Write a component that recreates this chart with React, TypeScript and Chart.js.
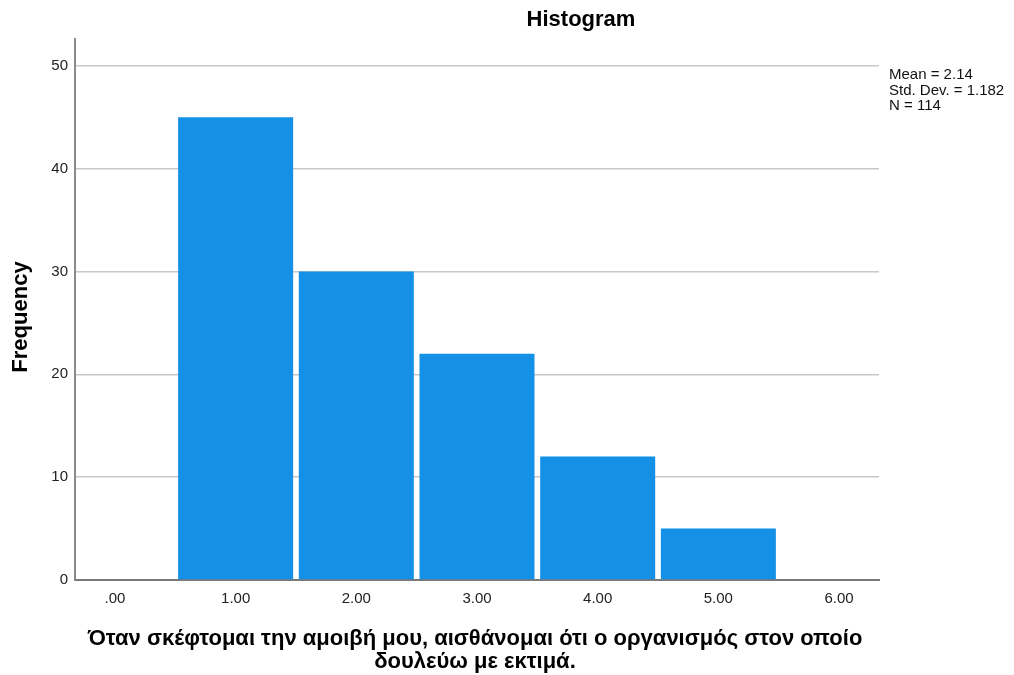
import React, { useEffect, useRef } from "react";
import { Chart, registerables } from "chart.js";

Chart.register(...registerables);

const binCenters = [1, 2, 3, 4, 5];
const frequencies = [45, 30, 22, 12, 5];
const xTickValues = [0, 1, 2, 3, 4, 5, 6];
const xTickLabels = [".00", "1.00", "2.00", "3.00", "4.00", "5.00", "6.00"];
const yTickValues = [0, 10, 20, 30, 40, 50];
const titleText = "Histogram";
const yTitle = "Frequency";
const xTitleLines = [
  "Όταν σκέφτομαι την αμοιβή μου, αισθάνομαι ότι ο οργανισμός στον οποίο",
  "δουλεύω με εκτιμά.",
];
const statsLines = ["Mean = 2.14", "Std. Dev. = 1.182", "N = 114"];

const FONT = "'Liberation Sans', Arial, Helvetica, sans-serif";

const textPlugin = {
  id: "textPlugin",
  afterDraw(chart: any) {
    const ctx = chart.ctx;
    const area = chart.chartArea;
    ctx.save();
    ctx.fillStyle = "#000";
    // title
    ctx.font = `bold 22px ${FONT}`;
    ctx.textAlign = "center";
    ctx.textBaseline = "middle";
    ctx.fillText(titleText, 581, 20);
    // y title
    ctx.save();
    ctx.translate(21, 317);
    ctx.rotate(-Math.PI / 2);
    ctx.font = `bold 22px ${FONT}`;
    ctx.fillText(yTitle, 0, 0);
    ctx.restore();
    // x title
    ctx.font = `bold 22px ${FONT}`;
    const cx = (area.left + area.right) / 2 - 2;
    ctx.fillText(xTitleLines[0], cx, 639);
    ctx.fillText(xTitleLines[1], cx, 662);
    // stats
    ctx.font = `15px ${FONT}`;
    ctx.textAlign = "left";
    ctx.fillStyle = "#111";
    statsLines.forEach((s, i) => ctx.fillText(s, 889, 75 + i * 15.5));
    ctx.restore();
  },
};

export default function App() {
  const ref = useRef<HTMLCanvasElement>(null);
  useEffect(() => {
    document.body.style.margin = "0";
    const chart = new Chart(ref.current!, {
      type: "bar",
      data: {
        datasets: [
          {
            data: binCenters.map((x, i) => ({ x, y: frequencies[i] })),
            backgroundColor: "#1490e7",
            borderWidth: 0,
            barPercentage: 0.953,
            categoryPercentage: 1,
          },
        ],
      },
      options: {
        responsive: false,
        animation: false,
        layout: { padding: { top: 39, right: 135, left: 0, bottom: 0 } },
        plugins: { legend: { display: false }, tooltip: { enabled: false }, title: { display: false } },
        scales: {
          x: {
            type: "linear",
            min: -0.331,
            max: 6.331,
            offset: false,
            afterBuildTicks: (scale: any) => {
              scale.ticks = xTickValues.map((v) => ({ value: v }));
            },
            afterFit: (scale: any) => {
              scale.height = 95;
            },
            ticks: {
              autoSkip: false,
              maxRotation: 0,
              padding: 10,
              color: "#222",
              font: { family: FONT, size: 15 },
              callback: (v: any) => {
                const i = xTickValues.indexOf(Number(v));
                return i >= 0 ? xTickLabels[i] : "";
              },
            },
            grid: { display: false, drawTicks: false },
            border: { display: true, color: "#7a7a7a", width: 2 },
          },
          y: {
            min: 0,
            max: 52.6,
            afterBuildTicks: (scale: any) => {
              scale.ticks = yTickValues.map((v) => ({ value: v }));
            },
            afterFit: (scale: any) => {
              scale.width = 75;
            },
            ticks: {
              padding: 7,
              color: "#222",
              font: { family: FONT, size: 15 },
              callback: (v: any) => String(v),
            },
            grid: {
              drawTicks: false,
              color: (c: any) => (c.tick && c.tick.value === 0 ? "rgba(0,0,0,0)" : "#c8c8c8"),
              lineWidth: 1.5,
            },
            border: { display: true, color: "#8a8a8a", width: 2 },
          },
        },
      },
      plugins: [textPlugin],
    } as any);
    return () => chart.destroy();
  }, []);
  return (
    <div style={{ width: 1014, height: 675, background: "#fff" }}>
      <canvas ref={ref} width={1014} height={675} style={{ display: "block" }} />
    </div>
  );
}
